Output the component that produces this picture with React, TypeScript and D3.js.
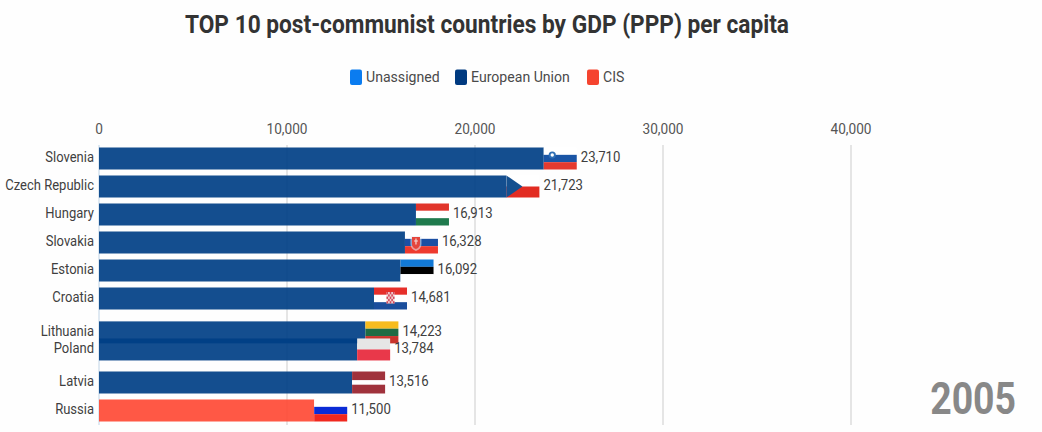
import React from "react";
import * as d3 from "d3";

const countries = ["Slovenia","Czech Republic","Hungary","Slovakia","Estonia","Croatia","Lithuania","Poland","Latvia","Russia"];
const values = [23710,21723,16913,16328,16092,14681,14223,13784,13516,11500];
const ranks = [0,1,2,3,4,5,6.21,6.82,8,9];
const groups = ["EU","EU","EU","EU","EU","EU","EU","EU","EU","CIS"];
const ticks = [0,10000,20000,30000,40000];
const legendNames = ["Unassigned","European Union","CIS"];
const legendColors = ["#0a7cf0","#003a80","#f5442f"];
const year = "2005";
const flagStripes: Record<string, [string, number][]> = {
  Slovenia: [["#ffffff",1],["#1a55a5",1],["#e53a2f",1]],
  "Czech Republic": [["#ffffff",1],["#e22c22",1]],
  Hungary: [["#e1352b",1],["#ffffff",1],["#1f7a4d",1]],
  Slovakia: [["#ffffff",1],["#1b4fa3",1],["#ee3a2e",1]],
  Estonia: [["#1279d6",1],["#000000",1],["#ffffff",1]],
  Croatia: [["#e62f2a",1],["#ffffff",1],["#1a4e9c",1]],
  Lithuania: [["#f7bc1e",1],["#1f6b44",1],["#c8342c",1]],
  Poland: [["#e6e6e6",1],["#e9384a",1]],
  Latvia: [["#a0323c",2],["#ffffff",1],["#a0323c",2]],
  Russia: [["#ffffff",1],["#0a2bd6",1],["#f0281e",1]],
};

const FONT = "Roboto, sans-serif";
const x = d3.scaleLinear().domain([0, 40000]).range([99, 851]);
const y = d3.scaleLinear().domain([0, 9]).range([158.5, 410.5]);
const BAR_H = 22;
const FLAG_W = 33;
const fmt = d3.format(",");
const groupColor: Record<string, string> = { EU: "#003f86", CIS: "#ff4a35" };

function Txt({ x: tx, y: ty, sx, children, ...rest }: any) {
  return <text transform={`translate(${tx},${ty}) scale(${sx},1)`} {...rest}>{children}</text>;
}

function Emblem({ name }: { name: string }) {
  if (name === "Slovenia") return <g><circle cx={8.5} cy={7.5} r={3.6} fill="#2f6fb5" /><circle cx={8.5} cy={7.5} r={1.7} fill="#fff" /></g>;
  if (name === "Czech Republic") return <path d="M0,0L16,11L0,22Z" fill="#15508f" />;
  if (name === "Slovakia") return <g><path d="M5.5,4.5h11v8q0,5 -5.5,7q-5.5,-2 -5.5,-7Z" fill="#e8eef6" fillOpacity={0.55} /><path d="M7,5.5h8v7q0,3.5 -4,5q-4,-1.5 -4,-5Z" fill="#e5453c" /><path d="M10.4,7h1.2v6h-1.2ZM9,9h4v1h-4Z" fill="#f6d6d3" /></g>;
  if (name === "Croatia") {
    const cells = d3.range(0, 25);
    return <g><rect x={12.5} y={4.5} width={8} height={11.5} fill="#f3d5d5" />{cells.map(i => (i % 5 + Math.floor(i / 5)) % 2 === 0 ? <rect key={i} x={12.5 + (i % 5) * 1.6} y={4.5 + Math.floor(i / 5) * 2.3} width={1.6} height={2.3} fill="#d2485a" /> : null)}</g>;
  }
  return null;
}

function Flag({ name, left, top }: { name: string; left: number; top: number }) {
  const stripes = flagStripes[name];
  const total = d3.sum(stripes, s => s[1]);
  const h = d3.scaleLinear().domain([0, total]).range([0, BAR_H]);
  let acc = 0;
  return (
    <g transform={`translate(${left},${top})`}>
      {stripes.map(([c, w], i) => {
        const r = <rect key={i} x={0} y={h(acc)} width={FLAG_W} height={h(w)} fill={c} />;
        acc += w;
        return r;
      })}
      <Emblem name={name} />
    </g>
  );
}

export default function App() {
  return (
    <svg width={1042} height={432} style={{ position: "absolute", left: 0, top: 0, display: "block", background: "#fefefe" }} fontFamily={FONT}>
      <Txt x={487} y={33} sx={0.89} textAnchor="middle" fontSize={25.5} fontWeight={700} fill="#333">TOP 10 post-communist countries by GDP (PPP) per capita</Txt>

      {legendNames.map((n, i) => {
        const sx = [350, 455, 587][i];
        return (
          <g key={n}>
            <rect x={sx} y={69.5} width={12} height={15.5} rx={2} fill={legendColors[i]} />
            <Txt x={sx + 16} y={82} sx={0.94} fontSize={15} fill="#4a4a4a">{n}</Txt>
          </g>
        );
      })}

      {ticks.map(t => (
        <g key={t}>
          <line x1={x(t)} x2={x(t)} y1={145} y2={425} stroke={t === 0 ? "#d5e2ee" : "#dcdcdc"} strokeWidth={1.5} />
          <Txt x={x(t)} y={133.5} sx={0.91} textAnchor="middle" fontSize={15} fill="#555">{fmt(t)}</Txt>
        </g>
      ))}

      {countries.map((c, i) => {
        const cy = y(ranks[i]);
        const top = cy - BAR_H / 2;
        const end = x(values[i]) - 1;
        return (
          <g key={c}>
            <rect x={x(0)} y={top} width={end - x(0)} height={BAR_H} fill={groupColor[groups[i]]} fillOpacity={0.92} />
            <Flag name={c} left={end} top={top} />
            <Txt x={94} y={cy + 3.8} sx={0.84} textAnchor="end" fontSize={15.5} fill="#3f3f3f">{c}</Txt>
            <Txt x={end + FLAG_W + 4} y={cy + 3.8} sx={0.85} fontSize={15.5} fill="#3f3f3f">{fmt(values[i])}</Txt>
          </g>
        );
      })}

      <Txt x={1016} y={414} sx={0.85} textAnchor="end" fontSize={44} fontWeight={700} fill="#888">{year}</Txt>
    </svg>
  );
}
